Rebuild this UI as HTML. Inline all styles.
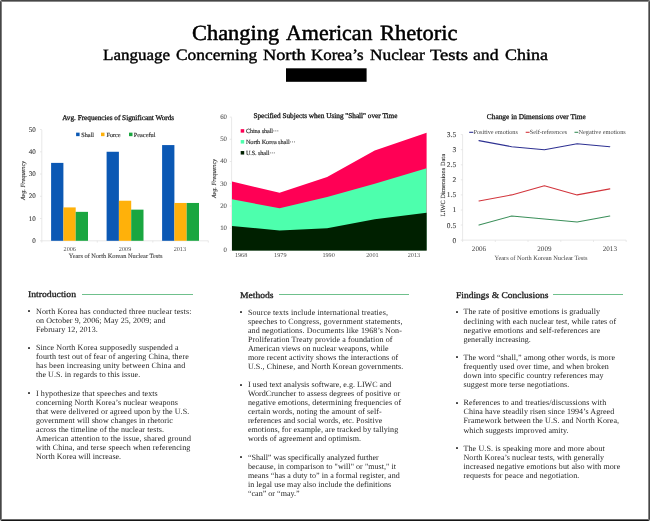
<!DOCTYPE html>
<html lang="en">
<head>
<meta charset="utf-8">
<title>Changing American Rhetoric</title>
<style>
html,body{margin:0;padding:0;background:#fff}
body{width:650px;height:521px;position:relative;overflow:hidden;font-family:"Liberation Serif", serif;text-rendering:geometricPrecision}
.poster{position:absolute;left:0;top:0;width:650px;height:521px;background:#fff;overflow:hidden}
.poster:before{content:"";position:absolute;left:0;top:0;right:0;bottom:0;box-sizing:border-box;border:1px solid;border-color:#464646 #464646 #161616 #464646;border-radius:2px;pointer-events:none;z-index:3}
.poster:after{content:"";position:absolute;left:1px;top:1px;right:1px;bottom:1px;box-sizing:border-box;border:1px solid;border-color:#888 #868686 #6a6a6a #7e7e7e;pointer-events:none;z-index:3}
h1,h2,h3{position:absolute;margin:0;white-space:nowrap;font-family:"Liberation Serif", serif;font-weight:normal}
h1 span,h2 span{position:absolute;top:0;transform-origin:0 0}
svg.charts{position:absolute;left:0;top:0}
svg text{font-family:"Liberation Serif", serif;text-rendering:geometricPrecision}
section{position:static}
hr{position:absolute;margin:0;border:0;height:1px;background:#6fc08c}
ul{list-style:none;margin:0;padding:0}
li{position:absolute;margin:0;padding:0;font-size:8px;line-height:9.03px;color:#1e1e1e;white-space:nowrap}
li span{display:block;height:9.03px}
li .dot{position:absolute;width:2px;height:2px;border-radius:0.6px;background:#444}
</style>
</head>
<body>
<div class="poster">
<h1 style="left:193.10px;top:21.05px;font-size:21.6px;line-height:25.92px;height:25.92px;-webkit-text-stroke:0.5px #000;color:#000"><span style="left:-0.70px;transform:scaleX(1.0371)">Changing</span> <span style="left:93.40px;transform:scaleX(1.0171)">American</span> <span style="left:186.60px;transform:scaleX(1.0436)">Rhetoric</span></h1>
<h2 style="left:103.60px;top:47.39px;font-size:15.8px;line-height:18.96px;height:18.96px;-webkit-text-stroke:0.4px #000;color:#000"><span style="left:-0.60px;transform:scaleX(1.0758)">Language</span> <span style="left:72.80px;transform:scaleX(1.1017)">Concerning</span> <span style="left:159.80px;transform:scaleX(1.1585)">North</span> <span style="left:207.80px;transform:scaleX(1.0704)">Korea’s</span> <span style="left:266.40px;transform:scaleX(1.0960)">Nuclear</span> <span style="left:326.80px;transform:scaleX(1.1783)">Tests</span> <span style="left:369.60px;transform:scaleX(1.1178)">and</span> <span style="left:401.20px;transform:scaleX(1.1369)">China</span></h2>
<svg class="charts" width="650" height="521" viewBox="0 0 650 521">
<rect x="286" y="68.3" width="80.6" height="13.5" fill="#000"/>
<path d="M41.8 130 V240.8 M41.8 240.8 H208.3" stroke="#e2e2e2" stroke-width="0.8" fill="none"/>
<path d="M41.8 240.8 v1.8M97.3 240.8 v1.8M152.8 240.8 v1.8M208.3 240.8 v1.8M41.8 240.8 h-1.8M41.8 218.5 h-1.8M41.8 196.3 h-1.8M41.8 174.0 h-1.8M41.8 151.8 h-1.8M41.8 129.5 h-1.8" stroke="#e2e2e2" stroke-width="0.8" fill="none"/>
<rect x="51.10" y="162.89" width="12.30" height="77.91" fill="#0b58b4"/>
<rect x="63.40" y="207.41" width="12.30" height="33.39" fill="#ffb10a"/>
<rect x="75.70" y="211.86" width="12.30" height="28.94" fill="#1aa640"/>
<rect x="106.60" y="151.76" width="12.30" height="89.04" fill="#0b58b4"/>
<rect x="118.90" y="200.73" width="12.30" height="40.07" fill="#ffb10a"/>
<rect x="131.20" y="209.64" width="12.30" height="31.16" fill="#1aa640"/>
<rect x="162.10" y="145.08" width="12.30" height="95.72" fill="#0b58b4"/>
<rect x="174.40" y="202.96" width="12.30" height="37.84" fill="#ffb10a"/>
<rect x="186.70" y="202.96" width="12.30" height="37.84" fill="#1aa640"/>
<rect x="76.1" y="132.65" width="3.5" height="3.5" fill="#0b58b4"/>
<rect x="101.0" y="132.65" width="3.5" height="3.5" fill="#ffb10a"/>
<rect x="129.0" y="132.65" width="3.5" height="3.5" fill="#1aa640"/>
<path d="M231.6 117.4 V250.4" stroke="#e2e2e2" stroke-width="0.8" fill="none"/>
<path d="M231.6 250.4 h-1.8M231.6 228.2 h-1.8M231.6 206.0 h-1.8M231.6 183.7 h-1.8M231.6 161.5 h-1.8M231.6 139.3 h-1.8M231.6 117.1 h-1.8" stroke="#e2e2e2" stroke-width="0.8" fill="none"/>
<polygon points="232.00,250.4 232.00,181.52 279.57,192.63 327.14,177.07 374.71,150.41 426.60,132.63 426.60,250.4" fill="#ff0055"/>
<polygon points="232.00,250.4 232.00,199.29 279.57,208.18 327.14,197.07 374.71,183.74 426.60,168.19 426.60,250.4" fill="#4dffad"/>
<polygon points="232.00,250.4 232.00,225.96 279.57,230.40 327.14,228.18 374.71,219.29 426.60,212.63 426.60,250.4" fill="#002000"/>
<rect x="240.7" y="129.15" width="3.5" height="3.5" fill="#ff0055"/>
<rect x="240.7" y="140.05" width="3.5" height="3.5" fill="#4dffad"/>
<rect x="240.7" y="151.05" width="3.5" height="3.5" fill="#002000"/>
<path d="M462.6 134.5 V240.1 H626.2" stroke="#e2e2e2" stroke-width="0.8" fill="none"/>
<path d="M462.6 240.1 v1.8M495.3 240.1 v1.8M528.0 240.1 v1.8M560.8 240.1 v1.8M593.5 240.1 v1.8M626.2 240.1 v1.8M462.6 240.1 h-1.8M462.6 225.0 h-1.8M462.6 210.0 h-1.8M462.6 194.9 h-1.8M462.6 179.8 h-1.8M462.6 164.8 h-1.8M462.6 149.7 h-1.8M462.6 134.6 h-1.8" stroke="#e2e2e2" stroke-width="0.8" fill="none"/>
<polyline points="478.96,140.64 511.68,146.67 544.40,149.68 577.12,143.65 609.84,146.67" fill="none" stroke="#2e3192" stroke-width="1.05" stroke-linejoin="round" stroke-linecap="round"/>
<polyline points="478.96,200.92 511.68,194.89 544.40,185.85 577.12,194.89 609.84,188.86" fill="none" stroke="#d2353c" stroke-width="1.05" stroke-linejoin="round" stroke-linecap="round"/>
<polyline points="478.96,225.03 511.68,215.99 544.40,219.00 577.12,222.02 609.84,215.99" fill="none" stroke="#3b8f5a" stroke-width="1.05" stroke-linejoin="round" stroke-linecap="round"/>
<path d="M469.2 132.3 H473.3" stroke="#2e3192" stroke-width="1.1"/>
<path d="M525.7 132.3 H529.6" stroke="#d2353c" stroke-width="1.1"/>
<path d="M574.5 132.3 H578.3" stroke="#3b8f5a" stroke-width="1.1"/>
<text x="32.20" y="242.80" font-size="7.0" fill="#3c3c3c" stroke="#3c3c3c" stroke-width="0.12">0</text>
<text x="28.70" y="220.54" font-size="7.0" fill="#3c3c3c" stroke="#3c3c3c" stroke-width="0.12">10</text>
<text x="28.70" y="198.28" font-size="7.0" fill="#3c3c3c" stroke="#3c3c3c" stroke-width="0.12">20</text>
<text x="28.70" y="176.02" font-size="7.0" fill="#3c3c3c" stroke="#3c3c3c" stroke-width="0.12">30</text>
<text x="28.70" y="153.76" font-size="7.0" fill="#3c3c3c" stroke="#3c3c3c" stroke-width="0.12">40</text>
<text x="28.70" y="131.50" font-size="7.0" fill="#3c3c3c" stroke="#3c3c3c" stroke-width="0.12">50</text>
<text x="63.56" y="250.60" font-size="6.2" fill="#4a4a4a">2006</text>
<text x="118.86" y="250.60" font-size="6.2" fill="#4a4a4a">2009</text>
<text x="173.66" y="250.60" font-size="6.2" fill="#4a4a4a">2013</text>
<text x="62.20" y="119.60" font-size="7.25" fill="#1a1a1a" letter-spacing="-0.017" stroke="#1a1a1a" stroke-width="0.3">Avg. Frequencies of Significant Words</text>
<text x="68.70" y="257.80" font-size="6.35" fill="#444" stroke="#444" stroke-width="0.1">Years of North Korean Nuclear Tests</text>
<text x="25.49" y="200.00" font-size="6.3" fill="#333" font-style="italic" letter-spacing="-0.022" stroke="#333" stroke-width="0.12" transform="rotate(-90 25.49 200.00)">Avg. Frequency</text>
<text x="81.30" y="136.60" font-size="6.3" fill="#333" letter-spacing="-0.038" stroke="#333" stroke-width="0.15">Shall</text>
<text x="106.50" y="136.60" font-size="6.3" fill="#333" letter-spacing="-0.086" stroke="#333" stroke-width="0.15">Force</text>
<text x="133.80" y="136.60" font-size="6.3" fill="#333" letter-spacing="-0.013" stroke="#333" stroke-width="0.15">Peaceful</text>
<text x="223.59" y="252.30" font-size="6.8" fill="#5a5a5a" stroke="#5a5a5a" stroke-width="0.1">0</text>
<text x="220.20" y="230.08" font-size="6.8" fill="#5a5a5a" stroke="#5a5a5a" stroke-width="0.1">10</text>
<text x="220.20" y="207.86" font-size="6.8" fill="#5a5a5a" stroke="#5a5a5a" stroke-width="0.1">20</text>
<text x="220.20" y="185.64" font-size="6.8" fill="#5a5a5a" stroke="#5a5a5a" stroke-width="0.1">30</text>
<text x="220.20" y="163.42" font-size="6.8" fill="#5a5a5a" stroke="#5a5a5a" stroke-width="0.1">40</text>
<text x="220.20" y="141.20" font-size="6.8" fill="#5a5a5a" stroke="#5a5a5a" stroke-width="0.1">50</text>
<text x="220.20" y="118.98" font-size="6.8" fill="#5a5a5a" stroke="#5a5a5a" stroke-width="0.1">60</text>
<text x="234.91" y="256.60" font-size="6.2" fill="#4a4a4a">1968</text>
<text x="274.11" y="256.60" font-size="6.2" fill="#4a4a4a">1979</text>
<text x="322.41" y="256.60" font-size="6.2" fill="#4a4a4a">1990</text>
<text x="366.21" y="256.60" font-size="6.2" fill="#4a4a4a">2001</text>
<text x="407.71" y="256.60" font-size="6.2" fill="#4a4a4a">2013</text>
<text x="253.40" y="118.00" font-size="7.25" fill="#1a1a1a" letter-spacing="-0.010" stroke="#1a1a1a" stroke-width="0.3">Specified Subjects when Using "Shall" over Time</text>
<text x="215.99" y="198.00" font-size="6.3" fill="#333" font-style="italic" letter-spacing="-0.022" stroke="#333" stroke-width="0.12" transform="rotate(-90 215.99 198.00)">Avg. Frequency</text>
<text x="245.90" y="133.40" font-size="6.3" fill="#333" letter-spacing="-0.139" stroke="#333" stroke-width="0.15">China shall···</text>
<text x="245.90" y="144.30" font-size="6.3" fill="#333" letter-spacing="-0.085" stroke="#333" stroke-width="0.15">North Korea shall···</text>
<text x="245.90" y="155.30" font-size="6.3" fill="#333" letter-spacing="-0.131" stroke="#333" stroke-width="0.15">U.S. shall···</text>
<text x="452.40" y="242.60" font-size="7.4" fill="#3c3c3c" stroke="#3c3c3c" stroke-width="0.1">0</text>
<text x="446.85" y="227.53" font-size="7.4" fill="#3c3c3c" stroke="#3c3c3c" stroke-width="0.1">0.5</text>
<text x="452.40" y="212.46" font-size="7.4" fill="#3c3c3c" stroke="#3c3c3c" stroke-width="0.1">1</text>
<text x="446.85" y="197.39" font-size="7.4" fill="#3c3c3c" stroke="#3c3c3c" stroke-width="0.1">1.5</text>
<text x="452.40" y="182.32" font-size="7.4" fill="#3c3c3c" stroke="#3c3c3c" stroke-width="0.1">2</text>
<text x="446.85" y="167.25" font-size="7.4" fill="#3c3c3c" stroke="#3c3c3c" stroke-width="0.1">2.5</text>
<text x="452.40" y="152.18" font-size="7.4" fill="#3c3c3c" stroke="#3c3c3c" stroke-width="0.1">3</text>
<text x="446.85" y="137.11" font-size="7.4" fill="#3c3c3c" stroke="#3c3c3c" stroke-width="0.1">3.5</text>
<text x="471.87" y="251.10" font-size="7.1" fill="#3c3c3c">2006</text>
<text x="537.31" y="251.10" font-size="7.1" fill="#3c3c3c">2009</text>
<text x="602.75" y="251.10" font-size="7.1" fill="#3c3c3c">2013</text>
<text x="486.80" y="118.90" font-size="7.35" fill="#1a1a1a" letter-spacing="0.009" stroke="#1a1a1a" stroke-width="0.3">Change in Dimensions over Time</text>
<text x="494.60" y="259.50" font-size="6.4" fill="#484848" letter-spacing="-0.049">Years of North Korean Nuclear Tests</text>
<text x="445.29" y="216.50" font-size="6.3" fill="#333" letter-spacing="0.067" stroke="#333" stroke-width="0.12" transform="rotate(-90 445.29 216.50)">LIWC Dimensions Data</text>
<text x="473.50" y="134.30" font-size="6.3" fill="#484848" letter-spacing="-0.036">Positive emotions</text>
<text x="529.80" y="134.30" font-size="6.3" fill="#484848" letter-spacing="-0.058">Self-references</text>
<text x="578.50" y="134.30" font-size="6.3" fill="#484848" letter-spacing="-0.006">Negative emotions</text>
</svg>
<section>
<h3 style="left:28.20px;top:289.46px;font-size:8.9px;line-height:10.68px;letter-spacing:0.000px;transform-origin:0 0;transform:scaleX(1.0940);-webkit-text-stroke:0.3px #1a1a1a;font-weight:normal;color:#1a1a1a">Introduction</h3>
<hr style="left:81.5px;top:294.1px;width:111.8px">
<ul>
<li style="left:36.00px;top:306.89px"><b class="dot" style="left:-7.80px;top:3.11px"></b>
<span style="letter-spacing:0.126px;height:9.09px">North Korea has conducted three nuclear tests:</span>
<span style="letter-spacing:0.085px;height:9.09px">on October 9, 2006; May 25, 2009; and</span>
<span style="letter-spacing:0.048px;height:9.09px">February 12, 2013.</span>
</li>
<li style="left:36.00px;top:343.24px"><b class="dot" style="left:-7.80px;top:3.76px"></b>
<span style="letter-spacing:0.093px;height:9.09px">Since North Korea supposedly suspended a</span>
<span style="letter-spacing:0.106px;height:9.09px">fourth test out of fear of angering China, there</span>
<span style="letter-spacing:0.114px;height:9.09px">has been increasing unity between China and</span>
<span style="letter-spacing:0.080px;height:9.09px">the U.S. in regards to this issue.</span>
</li>
<li style="left:36.00px;top:388.69px"><b class="dot" style="left:-7.80px;top:3.31px"></b>
<span style="letter-spacing:0.104px;height:9.09px">I hypothesize that speeches and texts</span>
<span style="letter-spacing:0.084px;height:9.09px">concerning North Korea’s nuclear weapons</span>
<span style="letter-spacing:0.087px;height:9.09px">that were delivered or agreed upon by the U.S.</span>
<span style="letter-spacing:0.061px;height:9.09px">government will show changes in rhetoric</span>
<span style="letter-spacing:0.093px;height:9.09px">across the timeline of the nuclear tests.</span>
<span style="letter-spacing:0.129px;height:9.09px">American attention to the issue, shared ground</span>
<span style="letter-spacing:0.109px;height:9.09px">with China, and terse speech when referencing</span>
<span style="letter-spacing:0.010px;height:9.09px">North Korea will increase.</span>
</li>
</ul></section>
<section>
<h3 style="left:240.40px;top:289.86px;font-size:8.9px;line-height:10.68px;letter-spacing:0.000px;transform-origin:0 0;transform:scaleX(1.0817);-webkit-text-stroke:0.3px #1a1a1a;font-weight:normal;color:#1a1a1a">Methods</h3>
<hr style="left:278.9px;top:294.4px;width:130.3px">
<ul>
<li style="left:247.90px;top:307.89px"><b class="dot" style="left:-8.00px;top:3.11px"></b>
<span style="letter-spacing:0.130px;height:9.04px">Source texts include international treaties,</span>
<span style="letter-spacing:0.144px;height:9.04px">speeches to Congress, government statements,</span>
<span style="letter-spacing:0.119px;height:9.04px">and negotiations. Documents like 1968’s Non-</span>
<span style="letter-spacing:0.102px;height:9.04px">Proliferation Treaty provide a foundation of</span>
<span style="letter-spacing:0.028px;height:9.04px">American views on nuclear weapons, while</span>
<span style="letter-spacing:0.101px;height:9.04px">more recent activity shows the interactions of</span>
<span style="letter-spacing:0.100px;height:9.04px">U.S., Chinese, and North Korean governments.</span>
</li>
<li style="left:247.90px;top:380.21px"><b class="dot" style="left:-8.00px;top:3.79px"></b>
<span style="letter-spacing:0.026px;height:9.04px">I used text analysis software, e.g. LIWC and</span>
<span style="letter-spacing:0.095px;height:9.04px">WordCruncher to assess degrees of positive or</span>
<span style="letter-spacing:0.104px;height:9.04px">negative emotions, determining frequencies of</span>
<span style="letter-spacing:0.084px;height:9.04px">certain words, noting the amount of self-</span>
<span style="letter-spacing:0.065px;height:9.04px">references and social words, etc. Positive</span>
<span style="letter-spacing:0.062px;height:9.04px">emotions, for example, are tracked by tallying</span>
<span style="letter-spacing:0.058px;height:9.04px">words of agreement and optimism.</span>
</li>
<li style="left:247.90px;top:452.53px"><b class="dot" style="left:-8.00px;top:3.47px"></b>
<span style="letter-spacing:-0.004px;height:9.04px">“Shall” was specifically analyzed further</span>
<span style="letter-spacing:0.063px;height:9.04px">because, in comparison to "will" or "must," it</span>
<span style="letter-spacing:0.074px;height:9.04px">means “has a duty to” in a formal register, and</span>
<span style="letter-spacing:0.060px;height:9.04px">in legal use may also include the definitions</span>
<span style="letter-spacing:0.033px;height:9.04px">“can” or “may.”</span>
</li>
</ul></section>
<section>
<h3 style="left:455.90px;top:289.66px;font-size:8.9px;line-height:10.68px;letter-spacing:0.000px;transform-origin:0 0;transform:scaleX(1.0705);-webkit-text-stroke:0.3px #1a1a1a;font-weight:normal;color:#1a1a1a">Findings &amp; Conclusions</h3>
<hr style="left:552.9px;top:294.2px;width:70.0px">
<ul>
<li style="left:463.50px;top:307.49px"><b class="dot" style="left:-7.50px;top:3.51px"></b>
<span style="letter-spacing:0.078px;height:9.08px">The rate of positive emotions is gradually</span>
<span style="letter-spacing:0.080px;height:9.08px">declining with each nuclear test, while rates of</span>
<span style="letter-spacing:0.097px;height:9.08px">negative emotions and self-references are</span>
<span style="letter-spacing:0.033px;height:9.08px">generally increasing.</span>
</li>
<li style="left:463.50px;top:352.88px"><b class="dot" style="left:-7.50px;top:3.12px"></b>
<span style="letter-spacing:0.066px;height:9.08px">The word “shall,” among other words, is more</span>
<span style="letter-spacing:0.105px;height:9.08px">frequently used over time, and when broken</span>
<span style="letter-spacing:0.096px;height:9.08px">down into specific country references may</span>
<span style="letter-spacing:0.101px;height:9.08px">suggest more terse negotiations.</span>
</li>
<li style="left:463.50px;top:398.28px"><b class="dot" style="left:-7.50px;top:3.72px"></b>
<span style="letter-spacing:0.129px;height:9.08px">References to and treaties/discussions with</span>
<span style="letter-spacing:0.072px;height:9.08px">China have steadily risen since 1994’s Agreed</span>
<span style="letter-spacing:0.102px;height:9.08px">Framework between the U.S. and North Korea,</span>
<span style="letter-spacing:0.068px;height:9.08px">which suggests improved amity.</span>
</li>
<li style="left:463.50px;top:443.68px"><b class="dot" style="left:-7.50px;top:3.32px"></b>
<span style="letter-spacing:0.119px;height:9.08px">The U.S. is speaking more and more about</span>
<span style="letter-spacing:0.076px;height:9.08px">North Korea’s nuclear tests, with generally</span>
<span style="letter-spacing:0.095px;height:9.08px">increased negative emotions but also with more</span>
<span style="letter-spacing:0.132px;height:9.08px">requests for peace and negotiation.</span>
</li>
</ul></section>
</div>
</body>
</html>
